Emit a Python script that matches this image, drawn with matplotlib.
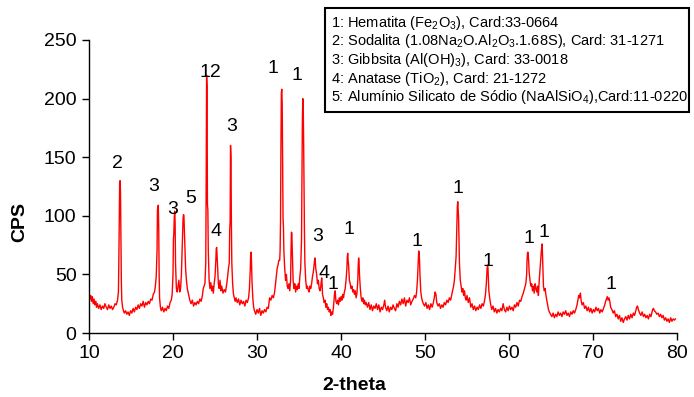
import matplotlib
matplotlib.use("Agg")
import matplotlib.pyplot as plt
from matplotlib.patches import Rectangle

plt.rcParams["font.family"] = ["Liberation Sans", "DejaVu Sans"]
plt.rcParams["mathtext.fontset"] = "custom"
plt.rcParams["mathtext.rm"] = "Liberation Sans"
plt.rcParams["mathtext.it"] = "Liberation Sans:italic"
plt.rcParams["mathtext.bf"] = "Liberation Sans:bold"

# -----------------------------
# Diffractogram (2-theta, CPS)
# -----------------------------
two_theta = [
    # 10 - 13.4 baseline
    10.0, 10.1, 10.2, 10.3, 10.4, 10.5, 10.6, 10.7, 10.8, 10.9,
    11.0, 11.15, 11.3, 11.45, 11.6, 11.75, 11.9, 12.05, 12.2, 12.35,
    12.5, 12.65, 12.8, 12.95, 13.1, 13.25, 13.4,
    # peak 2
    13.5, 13.55, 13.6, 13.65, 13.7, 13.75, 13.8, 13.85, 13.9, 14.0, 14.1,
    # 14.2 - 18
    14.2, 14.35, 14.5, 14.65, 14.8, 14.95, 15.1, 15.25, 15.4, 15.55,
    15.7, 15.85, 16.0, 16.15, 16.3, 16.45, 16.6, 16.75, 16.9, 17.05,
    17.2, 17.35, 17.5, 17.65, 17.8, 17.9, 18.0,
    # peak 3 (18.2)
    18.1, 18.15, 18.2, 18.25, 18.3, 18.35, 18.4, 18.5,
    # 18.6 - 19.9
    18.6, 18.75, 18.9, 19.05, 19.2, 19.35, 19.5, 19.65, 19.8, 19.9,
    # peaks 3 (20.2) and 5 (21.3)
    20.0, 20.05, 20.1, 20.15, 20.2, 20.25, 20.3, 20.4, 20.5, 20.6,
    20.7, 20.8, 20.9, 21.0, 21.1, 21.15, 21.2, 21.25, 21.3, 21.35,
    21.4, 21.5, 21.6, 21.7, 21.85, 22.0,
    # 22 - 23.7
    22.15, 22.3, 22.45, 22.6, 22.75, 22.9, 23.05, 23.2, 23.35, 23.5,
    23.6, 23.7,
    # peaks 12, 4, 3
    23.8, 23.85, 23.9, 23.95, 24.0, 24.05, 24.1, 24.15, 24.2, 24.3,
    24.4, 24.5, 24.6, 24.7, 24.8, 24.9, 25.0, 25.1, 25.15, 25.2,
    25.25, 25.3, 25.4, 25.5, 25.6, 25.7, 25.8, 25.95, 26.1, 26.25,
    26.4, 26.5, 26.6, 26.7, 26.75, 26.8, 26.85, 26.9, 26.95, 27.0,
    27.1, 27.2, 27.3, 27.4,
    # 27.5 - 29
    27.5, 27.65, 27.8, 27.95, 28.1, 28.25, 28.4, 28.55, 28.7, 28.85,
    29.0,
    # small peak 29.3
    29.1, 29.2, 29.25, 29.3, 29.35, 29.4, 29.5, 29.6,
    # 29.7 - 32.6
    29.7, 29.85, 30.0, 30.15, 30.3, 30.45, 30.6, 30.75, 30.9, 31.05,
    31.2, 31.35, 31.5, 31.65, 31.8, 31.95, 32.1, 32.25, 32.4, 32.5,
    32.6,
    # peaks 1 (33.0), 34.1, 1 (35.5)
    32.7, 32.75, 32.8, 32.85, 32.9, 32.95, 33.0, 33.05, 33.1, 33.15,
    33.2, 33.3, 33.4, 33.5, 33.6, 33.7, 33.8, 33.9, 34.0, 34.05,
    34.1, 34.15, 34.2, 34.3, 34.4, 34.5, 34.6, 34.7, 34.8, 34.9,
    35.0, 35.1, 35.2, 35.3, 35.35, 35.4, 35.45, 35.5, 35.55, 35.6,
    35.65, 35.7, 35.8, 35.9, 36.0,
    # 36.1 - 43
    36.1, 36.2, 36.3, 36.4, 36.5, 36.6, 36.7, 36.8, 36.85, 36.9,
    36.95, 37.0, 37.1, 37.2, 37.3, 37.4, 37.5, 37.6, 37.65, 37.7,
    37.75, 37.8, 37.9, 38.0, 38.1, 38.2, 38.3, 38.4, 38.5, 38.6,
    38.7, 38.8, 38.9, 39.0, 39.1, 39.2, 39.25, 39.3, 39.35, 39.4,
    39.5, 39.6, 39.7, 39.8, 39.9, 40.0, 40.1, 40.2, 40.3, 40.4,
    40.5, 40.6, 40.7, 40.75, 40.8, 40.85, 40.9, 41.0, 41.1, 41.2,
    41.3, 41.4, 41.5, 41.6, 41.7, 41.8, 41.9, 42.0, 42.05, 42.1,
    42.15, 42.2, 42.3, 42.4, 42.5, 42.6, 42.7, 42.8, 42.9, 43.0,
    # 43 - 48.8
    43.15, 43.3, 43.45, 43.6, 43.75, 43.9, 44.05, 44.2, 44.35, 44.5,
    44.65, 44.8, 44.95, 45.1, 45.2, 45.3, 45.45, 45.6, 45.75, 45.9,
    46.05, 46.2, 46.35, 46.5, 46.65, 46.8, 46.95, 47.1, 47.25, 47.4,
    47.55, 47.7, 47.85, 48.0, 48.15, 48.3, 48.45, 48.6, 48.75,
    # peak 49.3
    48.9, 49.0, 49.1, 49.2, 49.25, 49.3, 49.35, 49.4, 49.5, 49.6, 49.7,
    # 49.8 - 53.6
    49.8, 49.95, 50.1, 50.25, 50.4, 50.55, 50.7, 50.85, 51.0, 51.1,
    51.2, 51.3, 51.4, 51.55, 51.7, 51.85, 52.0, 52.15, 52.3, 52.45,
    52.6, 52.75, 52.9, 53.05, 53.2, 53.3, 53.4, 53.5, 53.6,
    # peak 54
    53.7, 53.75, 53.8, 53.85, 53.9, 53.95, 54.0, 54.05, 54.1, 54.2,
    54.3, 54.4, 54.5, 54.6, 54.7, 54.8, 54.9,
    # 55 - 57.1
    55.0, 55.15, 55.3, 55.45, 55.6, 55.75, 55.9, 56.05, 56.2, 56.35,
    56.5, 56.65, 56.8, 56.95, 57.1,
    # peak 57.5
    57.2, 57.3, 57.35, 57.4, 57.45, 57.5, 57.55, 57.6, 57.7, 57.8,
    # 57.9 - 61.7
    57.95, 58.1, 58.25, 58.4, 58.55, 58.7, 58.85, 59.0, 59.15, 59.3,
    59.45, 59.6, 59.75, 59.9, 60.05, 60.2, 60.35, 60.5, 60.65, 60.8,
    60.95, 61.1, 61.25, 61.4, 61.55, 61.7,
    # peaks 62.3 and 64.0
    61.85, 62.0, 62.1, 62.15, 62.2, 62.25, 62.3, 62.35, 62.4, 62.5,
    62.6, 62.7, 62.8, 62.9, 63.0, 63.1, 63.2, 63.3, 63.4, 63.5,
    63.6, 63.7, 63.75, 63.8, 63.85, 63.9, 63.95, 64.0, 64.05, 64.1,
    64.2, 64.3, 64.4, 64.5, 64.6, 64.7, 64.8,
    # 65 - 80
    64.95, 65.1, 65.25, 65.4, 65.55, 65.7, 65.85, 66.0, 66.15, 66.3,
    66.45, 66.6, 66.75, 66.9, 67.05, 67.2, 67.35, 67.5, 67.65, 67.8,
    67.95, 68.1, 68.2, 68.3, 68.4, 68.5, 68.6, 68.7, 68.85, 69.0,
    69.15, 69.3, 69.45, 69.6, 69.75, 69.9, 70.05, 70.2, 70.35, 70.5,
    70.65, 70.8, 70.95, 71.1, 71.25, 71.4, 71.5, 71.6, 71.7, 71.8,
    71.9, 72.0, 72.1, 72.25, 72.4, 72.55, 72.7, 72.85, 73.0, 73.15,
    73.3, 73.45, 73.6, 73.75, 73.9, 74.05, 74.2, 74.35, 74.5, 74.65,
    74.8, 74.95, 75.1, 75.2, 75.3, 75.4, 75.55, 75.7, 75.85, 76.0,
    76.15, 76.3, 76.45, 76.6, 76.75, 76.9, 77.0, 77.1, 77.2, 77.3,
    77.45, 77.6, 77.75, 77.9, 78.05, 78.2, 78.35, 78.5, 78.65, 78.8,
    78.95, 79.1, 79.25, 79.4, 79.55, 79.7, 79.8,
]

cps = [
    # 10 - 13.4 baseline
    36, 29, 32, 27, 31, 25, 29, 24, 27, 22,
    25, 21, 24, 20, 23, 21, 25, 22, 20, 24,
    21, 23, 20, 22, 25, 24, 28,
    # peak 2
    35, 60, 95, 128, 130, 120, 85, 45, 28, 22, 19,
    # 14.2 - 18
    17, 19, 16, 18, 15, 19, 17, 21, 18, 22,
    20, 24, 21, 25, 23, 27, 22, 26, 24, 27,
    25, 29, 28, 33, 35, 40, 48,
    # peak 3 (18.2)
    70, 105, 108, 109, 90, 50, 30, 22,
    # 18.6 - 19.9
    19, 22, 18, 21, 19, 23, 21, 26, 28, 33,
    # peaks 3 (20.2) and 5 (21.3)
    50, 80, 85, 98, 104, 95, 60, 38, 35, 40,
    45, 35, 38, 50, 75, 90, 98, 101, 100, 88,
    75, 55, 45, 38, 33, 28,
    # 22 - 23.7
    25, 28, 23, 26, 24, 27, 25, 29, 27, 32,
    38, 40,
    # peaks 12, 4, 3
    42, 50, 60, 130, 220, 210, 110, 105, 70, 45,
    38, 43, 36, 40, 34, 42, 48, 62, 72, 73,
    66, 58, 42, 38, 45, 36, 40, 34, 37, 35,
    42, 48, 55, 60, 88, 95, 160, 150, 95, 60,
    42, 33, 30, 27,
    # 27.5 - 29
    30, 26, 29, 24, 28, 25, 27, 23, 28, 26,
    30,
    # small peak 29.3
    38, 55, 68, 69, 60, 45, 30, 22,
    # 29.7 - 32.6
    19, 16, 20, 17, 21, 15, 19, 17, 20, 18,
    22, 21, 30, 28, 32, 30, 35, 45, 55, 58,
    62,
    # peaks 1 (33.0), 34.1, 1 (35.5)
    62, 70, 95, 160, 205, 208, 195, 150, 98, 90,
    70, 55, 45, 50, 40, 38, 42, 36, 45, 70,
    86, 85, 70, 45, 38, 42, 35, 40, 37, 42,
    38, 48, 55, 80, 130, 180, 200, 195, 165, 120,
    85, 60, 45, 38, 40,
    # 36.1 - 43
    37, 35, 40, 38, 42, 48, 52, 58, 62, 64,
    60, 55, 50, 42, 45, 38, 36, 40, 44, 47,
    42, 33, 30, 26, 28, 22, 25, 20, 22, 18,
    20, 15, 18, 16, 22, 30, 35, 36, 32, 27,
    25, 28, 24, 30, 27, 31, 28, 33, 30, 35,
    38, 45, 55, 65, 68, 62, 58, 45, 42, 38,
    40, 35, 37, 33, 36, 30, 34, 45, 58, 64,
    60, 50, 38, 30, 27, 30, 25, 28, 24, 26,
    # 43 - 48.8
    22, 26, 20, 24, 19, 23, 21, 25, 20, 24,
    18, 22, 20, 24, 28, 22, 19, 23, 18, 22,
    20, 24, 21, 19, 25, 22, 27, 24, 29, 25,
    30, 23, 28, 26, 30, 24, 27, 29, 32,
    # peak 49.3
    30, 35, 45, 62, 70, 68, 62, 50, 35, 30, 27,
    # 49.8 - 53.6
    25, 23, 26, 21, 24, 20, 25, 22, 26, 30,
    35, 33, 26, 23, 25, 21, 24, 22, 26, 24,
    28, 26, 30, 28, 33, 36, 40, 45, 55,
    # peak 54
    65, 80, 95, 108, 112, 105, 98, 80, 60, 45,
    40, 35, 38, 32, 36, 30, 28,
    # 55 - 57.1
    32, 26, 30, 22, 25, 20, 23, 19, 22, 20,
    24, 21, 25, 23, 28,
    # peak 57.5
    33, 42, 50, 56, 58, 55, 45, 36, 30, 25,
    # 57.9 - 61.7
    20, 23, 18, 21, 17, 20, 18, 21, 19, 25,
    20, 18, 22, 19, 23, 20, 22, 19, 24, 22,
    26, 23, 28, 27, 31, 34,
    # peaks 62.3 and 64.0
    38, 42, 50, 62, 68, 69, 66, 60, 52, 45,
    40, 42, 36, 40, 34, 42, 38, 35, 40, 32,
    45, 55, 60, 66, 70, 73, 76, 65, 52, 40,
    36, 38, 32, 28, 24, 20, 18,
    # 65 - 80
    16, 14, 17, 13, 16, 14, 18, 15, 17, 14,
    18, 16, 19, 15, 17, 14, 18, 16, 19, 17,
    20, 24, 28, 32, 30, 34, 27, 24, 26, 21,
    23, 19, 22, 18, 21, 17, 20, 18, 22, 19,
    21, 17, 20, 18, 21, 24, 27, 29, 31, 28,
    30, 27, 22, 20, 17, 19, 14, 16, 12, 15,
    10, 13, 9, 12, 14, 11, 15, 12, 16, 13,
    17, 15, 19, 22, 23, 20, 17, 15, 18, 14,
    16, 13, 15, 12, 16, 14, 17, 20, 21, 19,
    18, 16, 17, 14, 16, 13, 15, 11, 13, 10,
    12, 9, 13, 10, 12, 11, 12,
]

# phase numbers written over the peaks, with their (2-theta, CPS) anchor
peak_labels = ["2", "3", "3", "5", "12", "4", "3", "1", "1", "3",
               "4", "1", "1", "1", "1", "1", "1", "1", "1"]
label_pos = [(13.42, 145), (17.74, 125), (19.96, 105), (22.14, 115),
             (24.49, 222), (25.12, 87), (26.99, 176), (31.85, 226),
             (34.73, 220), (37.18, 82), (38.01, 51), (39.08, 41),
             (40.95, 88), (49.05, 78), (53.95, 123), (57.54, 61),
             (62.35, 81), (64.17, 86), (72.14, 41)]

legend_lines = [
    r"1: Hematita (Fe$_2$O$_3$), Card:33-0664",
    r"2: Sodalita (1.08Na$_2$O.Al$_2$O$_3$.1.68S), Card: 31-1271",
    r"3: Gibbsita (Al(OH)$_3$), Card: 33-0018",
    r"4: Anatase (TiO$_2$), Card: 21-1272",
    r"5: Alumínio Silicato de Sódio (NaAlSiO$_4$),Card:11-0220",
]

x_ticks = [10, 20, 30, 40, 50, 60, 70, 80]
y_ticks = [0, 50, 100, 150, 200, 250]

W, H = 694, 397

fig = plt.figure(figsize=(W / 100, H / 100), dpi=100)
ax = fig.add_axes([89 / W, 1 - 333 / H, (677 - 89) / W, (333 - 40) / H])

ax.plot(two_theta, cps, color="#ff0000", lw=1.0)

ax.set_xlim(10, 80)
ax.set_ylim(0, 250)
ax.set_xticks(x_ticks)
ax.set_yticks(y_ticks)
ax.tick_params(direction="out", length=5, width=1, labelsize=14, pad=4)
for side in ["top", "right"]:
    ax.spines[side].set_visible(False)
for side in ["left", "bottom"]:
    ax.spines[side].set_linewidth(1)

for lab, (px, py) in zip(peak_labels, label_pos):
    ax.text(px, py, lab, fontsize=14, ha="center", va="center")

fig.text(20 / W, 1 - 222 / H, "CPS", rotation=90, fontsize=14,
         fontweight="bold", ha="center", va="center")
fig.text(354 / W, 1 - 386 / H, "2-theta", fontsize=14,
         fontweight="bold", ha="center", va="center")

# phase key box
fig.patches.append(Rectangle((325 / W, 1 - 112 / H), (689 - 325) / W, (112 - 8) / H,
                             transform=fig.transFigure, facecolor="white",
                             edgecolor="black", lw=1.5))
for i, line in enumerate(legend_lines):
    fig.text(331 / W, 1 - (26.7 + 18.6 * i) / H, line, fontsize=10.5,
             ha="left", va="baseline")

fig.savefig("out.png", dpi=100)
plt.close(fig)
